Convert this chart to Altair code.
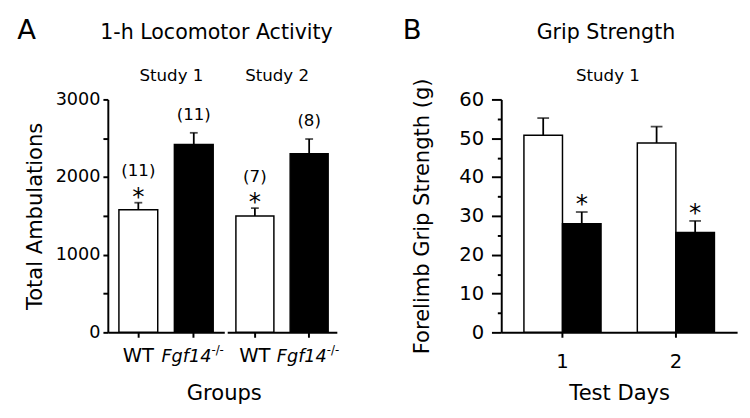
import altair as alt
import pandas as pd

FONT = "DejaVu Sans"

# ---------------- Panel A: 1-h Locomotor Activity ----------------
genotypes = ["WT", "Fgf14"]
bar_fill = ["white", "black"]
s1_mean = [1580, 2420]
s1_sem = [90, 150]
s1_n = ["(11)", "(11)"]
s1_star = ["*", ""]
s2_mean = [1500, 2300]
s2_sem = [100, 190]
s2_n = ["(7)", "(8)"]
s2_star = ["*", ""]
a_ticks = [0, 500, 1000, 1500, 2000, 2500, 3000]

# ---------------- Panel B: Grip Strength ----------------
days = ["1", "2"]
grip_wt_mean = [50.8, 48.8]
grip_wt_sem = [4.4, 4.2]
grip_ko_mean = [28.0, 25.7]
grip_ko_sem = [3.0, 3.0]
b_ticks = [0, 5, 10, 15, 20, 25, 30, 35, 40, 45, 50, 55, 60]

# headings
a_letter = ["A"]
a_title = ["1-h Locomotor Activity"]
a_xtitle = ["Groups"]
a_studies = ["Study 1", "Study 2"]
b_letter = ["B"]
b_title = ["Grip Strength"]
b_study = ["Study 1"]

H = 238


def txt(s):
    return alt.Chart(pd.DataFrame({"t": s}))


def panel_a(mean, sem, n, star, width, pad_outer, show_y, study, study_x, extra):
    df = pd.DataFrame({
        "group": genotypes,
        "mean": mean,
        "top": [m + e for m, e in zip(mean, sem)],
        "n": n,
        "star": star,
        "fill": bar_fill,
    })
    yscale = alt.Scale(domain=[0, 3000], nice=False)
    if show_y:
        yaxis = alt.Axis(title="Total Ambulations", values=a_ticks,
                         labelExpr="datum.value % 1000 === 0 ? datum.label : ''",
                         format="d", tickSize=5, labelPadding=3, titlePadding=9,
                         labelFontSize=18, titleFontSize=21.5, grid=False,
                         domainWidth=2, tickWidth=2)
    else:
        yaxis = None
    xenc = alt.X("group:N", sort=genotypes,
                 scale=alt.Scale(paddingInner=0.3, paddingOuter=pad_outer),
                 axis=alt.Axis(title=None, labels=False, tickSize=5,
                               domainWidth=2, tickWidth=2))
    base = alt.Chart(df).encode(x=xenc)
    wt = base.transform_filter("datum.group === 'WT'")
    ko = base.transform_filter("datum.group !== 'WT'")
    bars = base.mark_bar(stroke="black", strokeWidth=1.5).encode(
        y=alt.Y("mean:Q", scale=yscale, axis=yaxis),
        fill=alt.Fill("fill:N", scale=None))
    err = base.mark_rule(color="black", strokeWidth=1.8).encode(
        y=alt.Y("mean:Q", scale=yscale, axis=yaxis), y2="top:Q")
    cap = base.mark_tick(color="black", size=8, thickness=1.8).encode(
        y=alt.Y("top:Q", scale=yscale, axis=yaxis))
    nlab_wt = wt.mark_text(fontSize=17, dy=-32, baseline="middle", color="black").encode(
        y=alt.Y("top:Q", scale=yscale, axis=yaxis), text="n:N")
    nlab_ko = ko.mark_text(fontSize=17, dy=-18, baseline="middle", color="black").encode(
        y=alt.Y("top:Q", scale=yscale, axis=yaxis), text="n:N")
    stars = base.mark_text(fontSize=25, dy=2, baseline="alphabetic", color="black").encode(
        y=alt.Y("top:Q", scale=yscale, axis=yaxis), text="star:N")
    lab_wt = wt.mark_text(fontSize=20, baseline="alphabetic", color="black").encode(
        y=alt.value(H + 30), text="group:N")
    lab_ko = ko.mark_text(
        fontSize=18, fontStyle="italic", baseline="alphabetic", align="right",
        dx=18, color="black").encode(y=alt.value(H + 30), text="group:N")
    lab_sup = ko.mark_text(
        fontSize=12, baseline="alphabetic", align="left", dx=18, text="-/-",
        color="black").encode(y=alt.value(H + 22))
    study_t = txt([study]).mark_text(fontSize=17, baseline="middle", color="black").encode(
        x=alt.value(study_x), y=alt.value(-24), text="t:N")
    layers = [bars, err, cap, nlab_wt, nlab_ko, stars, lab_wt, lab_ko, lab_sup, study_t] + extra
    return alt.layer(*layers).properties(width=width, height=H)


a_extra = [
    txt(a_letter).mark_text(fontSize=28, baseline="middle", color="black").encode(
        x=alt.value(-83), y=alt.value(-70), text="t:N"),
    txt(a_title).mark_text(fontSize=21, baseline="middle", color="black").encode(
        x=alt.value(111), y=alt.value(-68), text="t:N"),
    txt(a_xtitle).mark_text(fontSize=21.5, baseline="alphabetic", color="black").encode(
        x=alt.value(119), y=alt.value(H + 69), text="t:N"),
]

a1 = panel_a(s1_mean, s1_sem, s1_n, s1_star, 119, 0.2, True, a_studies[0], 65, a_extra)
a2 = panel_a(s2_mean, s2_sem, s2_n, s2_star, 112, 0.16, False, a_studies[1], 51, [])

# ---------------- Panel B chart ----------------
rows = []
for i, d in enumerate(days):
    rows.append({"day": d, "geno": "WT", "mean": grip_wt_mean[i],
                 "top": grip_wt_mean[i] + grip_wt_sem[i], "fill": "white", "star": ""})
    rows.append({"day": d, "geno": "Fgf14", "mean": grip_ko_mean[i],
                 "top": grip_ko_mean[i] + grip_ko_sem[i], "fill": "black", "star": "*"})
df_b = pd.DataFrame(rows)

yscale_b = alt.Scale(domain=[0, 60], nice=False)
yaxis_b = alt.Axis(title="Forelimb Grip Strength (g)", values=b_ticks,
                   labelExpr="datum.value % 10 === 0 ? datum.label : ''",
                   tickSize={"condition": {"test": "datum.value % 10 !== 0", "value": 4}, "value": 10},
                   labelPadding=8, titlePadding=26, labelFontSize=20, titleFontSize=21.5,
                   grid=False, domainWidth=2, tickWidth=2)
xb = alt.X("day:N", sort=days, scale=alt.Scale(paddingInner=0.32, paddingOuter=0.2),
           axis=alt.Axis(title="Test Days", labelAngle=0, tickSize=5, labelPadding=15,
                         titlePadding=12, labelFontSize=20, titleFontSize=21.5,
                         domainWidth=2, tickWidth=2))
xo = alt.XOffset("geno:N", sort=genotypes, scale=alt.Scale(paddingInner=0, paddingOuter=0))
base_b = alt.Chart(df_b).encode(x=xb, xOffset=xo)
bars_b = base_b.mark_bar(stroke="black", strokeWidth=1.5).encode(
    y=alt.Y("mean:Q", scale=yscale_b, axis=yaxis_b), fill=alt.Fill("fill:N", scale=None))
err_b = base_b.mark_rule(color="black", strokeWidth=1.8).encode(
    y=alt.Y("mean:Q", scale=yscale_b, axis=yaxis_b), y2="top:Q")
cap_b = base_b.mark_tick(color="black", size=12, thickness=1.8).encode(
    y=alt.Y("top:Q", scale=yscale_b, axis=yaxis_b))
star_b = base_b.mark_text(fontSize=25, dy=0, baseline="alphabetic", color="black").encode(
    y=alt.Y("top:Q", scale=yscale_b, axis=yaxis_b), text="star:N")
b_letter_t = txt(b_letter).mark_text(fontSize=28, baseline="middle", color="black").encode(
    x=alt.value(-91), y=alt.value(-70), text="t:N")
b_title_t = txt(b_title).mark_text(fontSize=21, baseline="middle", color="black").encode(
    x=alt.value(107), y=alt.value(-68), text="t:N")
b_study_t = txt(b_study).mark_text(fontSize=17, baseline="middle", color="black").encode(
    x=alt.value(109), y=alt.value(-24), text="t:N")

b = alt.layer(bars_b, err_b, cap_b, star_b, b_letter_t, b_title_t, b_study_t).properties(
    width=241, height=H)

inner = alt.hconcat(a1, a2, spacing=3, bounds="flush")
chart = alt.hconcat(inner, b, spacing=64).properties(
    padding={"left": 9, "top": 5, "right": 5, "bottom": 5}
).configure(font=FONT).configure_view(stroke=None).configure_axis(
    labelColor="black", titleColor="black", domainColor="black", tickColor="black",
    titleFontWeight="normal", labelFont=FONT, titleFont=FONT
)

chart.save("out.html", embed_options={"renderer": "svg", "actions": False})
